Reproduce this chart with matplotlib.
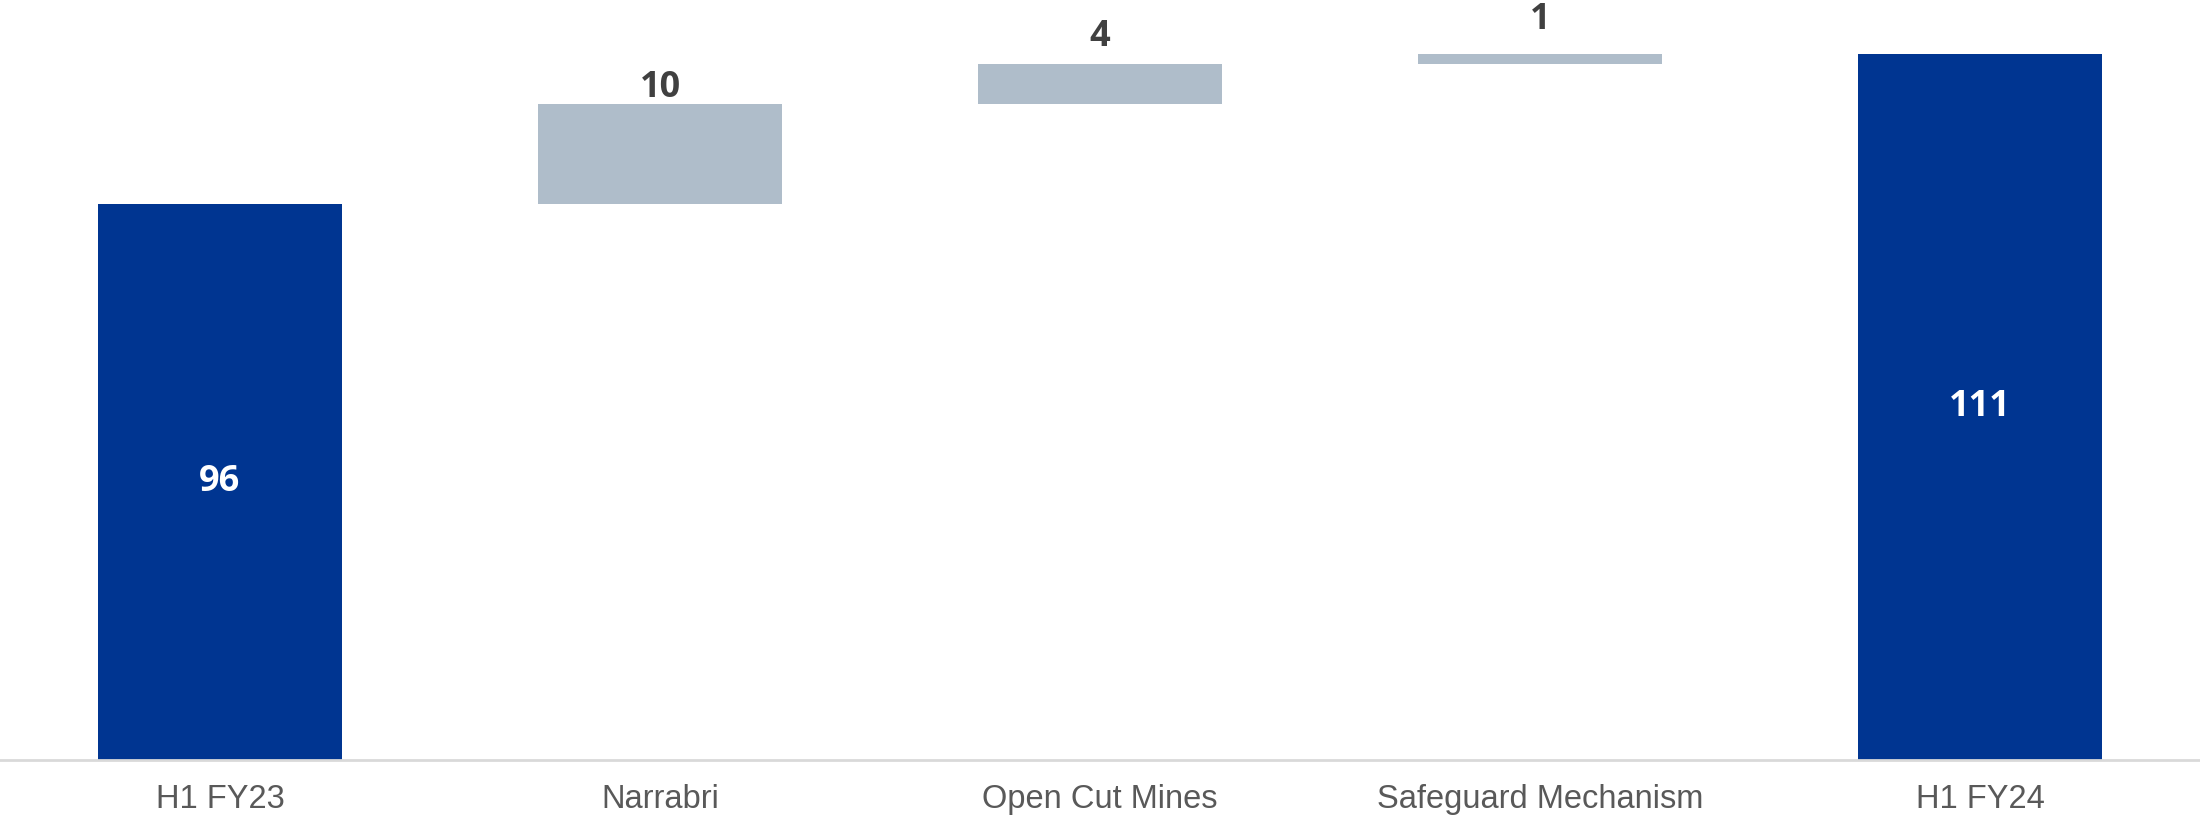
import numpy as np
import matplotlib.pyplot as plt

categories = ["H1 FY23", "Narrabri", "Open Cut Mines", "Safeguard Mechanism", "H1 FY24"]
values = [96, 10, 4, 1, 111]
is_total = [True, False, False, False, True]

blue = "#003591"
grey = "#afbdca"
# gap (points) between top of step bar and its label, as placed in the original
label_gap = [0, 5, 13, 18, 0]

fig = plt.figure(figsize=(22, 8.17), dpi=100)
ax = fig.add_axes([0, 0.0698, 1, 0.9302])

ymin = 40.4
ax.set_ylim(ymin, ymin + 76)
ax.set_xlim(-0.5, len(categories) - 0.5)

x = np.arange(len(categories))
running = 0
for i, (v, tot) in enumerate(zip(values, is_total)):
    if tot:
        ax.bar(x[i], v, width=0.556, color=blue)
        ax.text(x[i], (ymin + v) / 2, str(v), ha="center", va="center",
                color="white", fontsize=26, fontweight="bold", family="Open Sans")
        running = v
    else:
        ax.bar(x[i], v, bottom=running, width=0.556, color=grey)
        ax.annotate(str(v), (x[i], running + v), xytext=(0, label_gap[i]),
                    textcoords="offset points", ha="center", va="baseline",
                    color="#404040", fontsize=26, fontweight="bold", family="Open Sans")
        running += v

ax.set_xticks(x)
ax.set_xticklabels(categories, fontsize=23.5, color="#595959", family="Liberation Sans")
ax.tick_params(axis="x", length=0, pad=17)
ax.set_yticks([])
for s in ["top", "left", "right"]:
    ax.spines[s].set_visible(False)
ax.spines["bottom"].set_color("#d9d9d9")
ax.spines["bottom"].set_linewidth(2)

fig.savefig("out.png", dpi=100)
